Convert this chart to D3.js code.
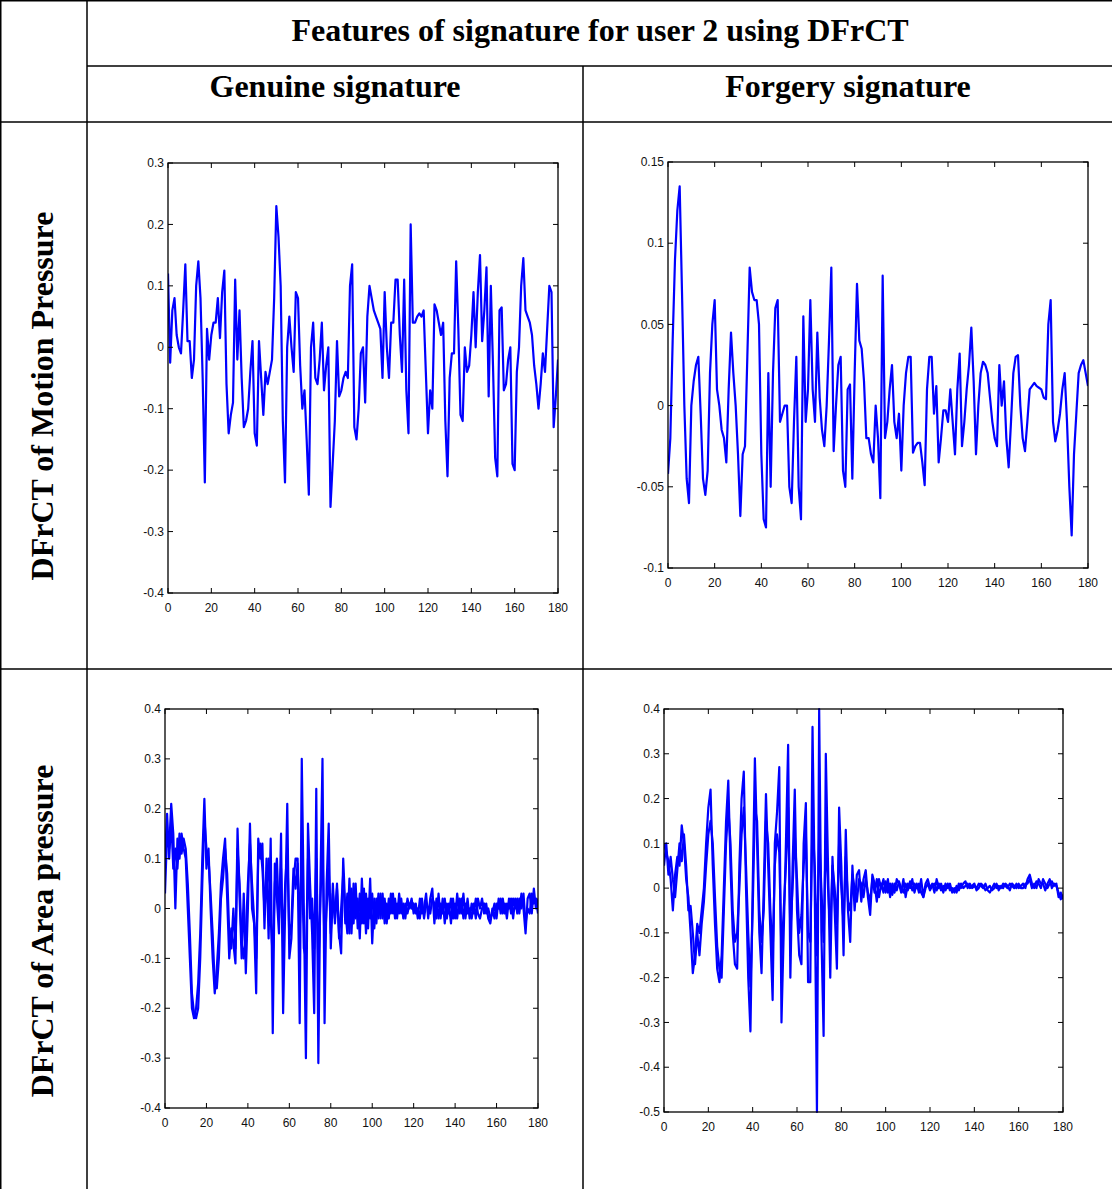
<!DOCTYPE html>
<html>
<head>
<meta charset="utf-8">
<script src="https://cdn.jsdelivr.net/npm/d3@7"></script>
<style>
  html, body { margin: 0; padding: 0; background: #fff; }
  svg { display: block; }
</style>
</head>
<body>
<div id="chart"></div>
<script>
// ---------- DATA ----------
const title = "Features of signature for user 2 using DFrCT";
const columnHeaders = ["Genuine signature", "Forgery signature"];
const rowHeaders = ["DFrCT of Motion Pressure", "DFrCT of Area pressure"];

const xTicks = [0, 20, 40, 60, 80, 100, 120, 140, 160, 180];
const yTicksMotionGenuine = [-0.4, -0.3, -0.2, -0.1, 0, 0.1, 0.2, 0.3];
const yTicksMotionForgery = [-0.1, -0.05, 0, 0.05, 0.1, 0.15];
const yTicksAreaGenuine = [-0.4, -0.3, -0.2, -0.1, 0, 0.1, 0.2, 0.3, 0.4];
const yTicksAreaForgery = [-0.5, -0.4, -0.3, -0.2, -0.1, 0, 0.1, 0.2, 0.3, 0.4];

// sample index 0..180
const motionGenuine = [
  0.12, -0.025, 0.06, 0.08, 0.02, 0.0, -0.01, 0.06, 0.135, 0.01,
  0.01, -0.05, -0.02, 0.1, 0.14, 0.08, -0.05, -0.22, 0.03, -0.02,
  0.02, 0.04, 0.04, 0.08, 0.015, 0.09, 0.125, -0.06, -0.14, -0.11,
  -0.09, 0.11, -0.02, 0.06, -0.05, -0.13, -0.12, -0.1, -0.04, 0.01,
  -0.14, -0.16, 0.01, -0.05, -0.11, -0.04, -0.06, -0.04, -0.02, 0.08,
  0.23, 0.18, 0.1, -0.12, -0.22, 0.0, 0.05, 0.0, -0.04, 0.09,
  0.08, -0.03, -0.1, -0.07, -0.15, -0.24, 0.0, 0.04, -0.05, -0.06,
  -0.02, 0.04, -0.07, -0.03, 0.0, -0.26, -0.19, -0.12, 0.01, -0.08,
  -0.07, -0.05, -0.04, -0.05, 0.1, 0.135, -0.13, -0.15, -0.1, -0.01,
  0.0, -0.09, 0.05, 0.1, 0.08, 0.06, 0.05, 0.04, 0.03, -0.05,
  0.09, 0.0, -0.05, 0.04, 0.04, 0.11, 0.11, 0.02, -0.04, 0.11,
  -0.07, -0.14, 0.2, 0.04, 0.04, 0.05, 0.055, 0.05, 0.06, -0.04,
  -0.14, -0.07, -0.1, 0.07, 0.06, 0.04, 0.02, 0.04, -0.12, -0.21,
  -0.05, -0.01, -0.01, 0.14, 0.03, -0.11, -0.12, 0.0, -0.04, -0.03,
  0.02, 0.09, 0.0, 0.09, 0.15, 0.01, 0.06, 0.13, -0.08, 0.1,
  -0.03, -0.18, -0.21, 0.06, 0.065, -0.07, -0.06, -0.02, 0.0, -0.19,
  -0.2, -0.04, 0.0, 0.1, 0.145, 0.06, 0.05, 0.04, 0.02, -0.03,
  -0.06, -0.1, -0.06, -0.01, -0.04, 0.03, 0.1, 0.09, -0.13, -0.08,
  -0.02
];

const motionForgery = [
  -0.042, -0.02, 0.04, 0.09, 0.12, 0.135, 0.07, 0.0, -0.045, -0.06,
  0.0, 0.015, 0.025, 0.03, -0.005, -0.045, -0.055, -0.04, 0.02, 0.05,
  0.065, 0.01, 0.0, -0.015, -0.02, -0.035, 0.01, 0.045, 0.02, 0.0,
  -0.03, -0.068, -0.03, -0.025, 0.03, 0.085, 0.07, 0.065, 0.065, 0.05,
  -0.03, -0.07, -0.075, 0.02, -0.05, 0.02, 0.06, 0.065, -0.01, -0.005,
  0.0, 0.0, -0.05, -0.06, -0.01, 0.03, -0.05, -0.07, 0.055, -0.01,
  0.01, 0.065, 0.01, -0.01, 0.045, 0.005, -0.015, -0.025, 0.0, 0.04,
  0.085, -0.028, 0.0, 0.025, 0.03, -0.04, -0.05, 0.01, 0.013, -0.045,
  0.02, 0.075, 0.04, 0.035, 0.015, -0.02, -0.02, -0.03, -0.035, 0.0,
  -0.02, -0.057, 0.08, -0.02, -0.01, 0.01, 0.025, -0.01, -0.02, -0.005,
  -0.04, 0.0, 0.02, 0.03, 0.03, -0.029, -0.025, -0.023, -0.023, -0.035,
  -0.049, 0.01, 0.03, 0.03, -0.005, 0.012, -0.035, -0.02, -0.003, -0.003,
  -0.01, 0.01, -0.01, -0.03, 0.01, 0.032, -0.025, -0.01, 0.01, 0.025,
  0.048, 0.015, -0.03, 0.0, 0.02, 0.027, 0.025, 0.02, 0.005, -0.01,
  -0.02, -0.025, 0.025, 0.0, 0.015, -0.02, -0.038, -0.01, 0.02, 0.03,
  0.031, 0.0, -0.02, -0.028, -0.01, 0.01, 0.012, 0.014, 0.012, 0.011,
  0.01, 0.005, 0.004, 0.05, 0.065, -0.01, -0.022, -0.015, -0.005, 0.01,
  0.02, -0.01, -0.05, -0.08, -0.03, -0.005, 0.02, 0.025, 0.028, 0.02,
  0.012
];

const areaGenuineA = [
  0.03, 0.15, 0.12, 0.21, 0.15, 0.0, 0.14, 0.1, 0.15, 0.12,
  0.1, 0.0, -0.1, -0.2, -0.22, -0.2, -0.15, -0.05, 0.1, 0.22,
  0.08, 0.12, 0.0, -0.1, -0.17, -0.12, -0.05, 0.05, 0.1, 0.14,
  0.02, -0.1, -0.04, -0.07, -0.11, 0.16, 0.02, -0.1, 0.03, -0.13,
  0.0, 0.17, 0.0, -0.03, -0.17, 0.14, 0.1, 0.13, -0.04, 0.1,
  -0.06, 0.14, -0.25, 0.09, 0.02, -0.05, 0.15, -0.21, 0.0, 0.21,
  -0.1, -0.06, 0.05, 0.1, 0.1, -0.23, 0.3, 0.0, -0.3, 0.17,
  0.05, -0.05, -0.21, 0.24, -0.31, 0.05, 0.3, -0.23, 0.05, 0.17,
  -0.08, 0.03, -0.02, 0.05, -0.05, -0.09, 0.1, 0.0, -0.05, 0.06,
  -0.05, 0.05, -0.02, 0.02, -0.06, 0.06, -0.03, 0.03, -0.04, 0.06,
  -0.07, 0.02, -0.03, 0.03, -0.02, 0.03, -0.03, 0.01, -0.02, 0.03,
  -0.01, 0.02, -0.02, 0.03, -0.01, 0.01, -0.02, 0.02, 0.0, 0.02,
  -0.01, 0.01, -0.02, 0.02, -0.01, 0.0, 0.03, -0.02, 0.02, 0.04,
  -0.03, 0.02, -0.02, 0.01, -0.01, 0.02, -0.02, 0.01, -0.03, 0.02,
  -0.02, 0.03, -0.01, 0.02, -0.02, 0.01, -0.01, 0.0, -0.02, 0.01,
  -0.02, 0.02, 0.0, 0.02, -0.01, 0.01, -0.02, -0.03, 0.0, -0.02,
  0.01, 0.0, 0.02, -0.01, 0.01, -0.02, 0.02, -0.01, 0.02, 0.0,
  0.02, -0.01, 0.03, 0.0, -0.05, 0.02, 0.03, -0.01, 0.04, 0.0,
  0.02
];

const areaGenuineB = [
  0.1, 0.19, 0.1, 0.18, 0.08, 0.12, 0.08, 0.15, 0.11, 0.14,
  0.12, 0.05, -0.05, -0.17, -0.21, -0.22, -0.2, -0.1, 0.05, 0.18,
  0.12, 0.1, 0.03, -0.05, -0.15, -0.16, -0.1, 0.02, 0.06, 0.12,
  0.07, -0.05, -0.08, 0.0, -0.08, 0.12, 0.05, -0.07, -0.1, -0.05,
  0.05, 0.13, 0.05, -0.02, -0.1, 0.1, 0.13, 0.08, 0.0, 0.04,
  0.1, -0.02, -0.1, 0.05, 0.1, -0.02, 0.08, -0.08, 0.05, 0.12,
  -0.06, -0.03, 0.08, 0.04, 0.09, -0.05, 0.12, -0.08, -0.1, 0.1,
  -0.02, 0.02, -0.08, 0.1, -0.12, 0.02, 0.12, -0.08, 0.0, 0.08,
  -0.05, 0.05, -0.03, 0.04, -0.06, 0.0, 0.07, -0.03, 0.03, -0.05,
  0.04, -0.03, 0.05, -0.04, 0.03, -0.03, 0.04, -0.05, 0.02, -0.02,
  0.03, -0.04, 0.02, -0.02, 0.03, -0.02, 0.02, -0.03, 0.02, -0.01,
  0.03, -0.02, 0.01, -0.01, 0.02, -0.02, 0.01, -0.01, 0.01, 0.0,
  0.01, -0.01, 0.0, -0.02, 0.02, -0.02, 0.01, 0.0, -0.01, 0.02,
  0.01, -0.02, 0.03, -0.02, 0.02, -0.03, 0.01, -0.01, 0.02, -0.02,
  0.01, -0.02, 0.02, -0.01, 0.03, -0.02, 0.02, -0.02, 0.01, -0.01,
  0.02, -0.01, -0.02, 0.0, 0.01, -0.01, 0.0, -0.02, -0.01, 0.01,
  -0.02, 0.02, -0.01, 0.02, -0.01, 0.01, 0.0, 0.02, -0.02, 0.02,
  -0.01, 0.02, 0.0, 0.03, -0.03, 0.0, -0.01, 0.03, 0.01, 0.02,
  -0.01
];

const areaForgeryA = [
  0.1, 0.08, 0.06, 0.02, -0.05, 0.03, 0.07, 0.05, 0.14, 0.1,
  0.02, -0.02, -0.1, -0.19, -0.15, -0.08, -0.1, -0.05, 0.0, 0.1,
  0.18, 0.22, 0.05, -0.08, -0.18, -0.21, -0.15, 0.0, 0.15, 0.24,
  0.05, -0.1, -0.17, -0.18, 0.05, 0.2, 0.26, 0.0, -0.2, -0.32,
  0.0, 0.29, 0.1, -0.1, -0.19, 0.0, 0.21, 0.05, -0.1, -0.25,
  0.1, 0.17, 0.27, -0.3, -0.1, 0.1, 0.32, -0.2, 0.05, 0.22,
  -0.05, -0.15, -0.17, 0.1, 0.19, -0.21, -0.21, 0.36, 0.0, -0.5,
  0.4, -0.1, -0.33, 0.3, 0.05, -0.2, 0.07, -0.05, -0.18, 0.18,
  0.05, -0.15, 0.13, -0.05, -0.12, 0.05, -0.05, 0.03, 0.04, -0.03,
  0.02, 0.04, -0.02, -0.06, 0.03, 0.01, -0.03, 0.02, 0.0, 0.02,
  -0.01, 0.02, -0.02, 0.01, -0.01, 0.02, 0.01, -0.01, 0.02, -0.02,
  0.01, 0.0, 0.02, -0.01, 0.01, -0.01, 0.02, -0.02, 0.01, 0.02,
  0.0, 0.01, -0.01, 0.02, 0.0, 0.01, -0.01, 0.01, 0.0, 0.01,
  -0.01, 0.0, -0.01, 0.01, 0.0, 0.01, 0.015, 0.0, 0.01, 0.0,
  0.005, 0.0, 0.01, 0.005, 0.0, 0.01, -0.005, -0.01, 0.0, 0.01,
  0.0, 0.005, 0.0, 0.01, 0.005, 0.0, 0.01, 0.005, 0.0, 0.01,
  0.0, 0.005, 0.01, 0.0, 0.02, 0.03, 0.01, 0.0, 0.015, 0.01,
  0.0, 0.02, 0.01, 0.0, 0.01, 0.015, 0.005, 0.01, -0.02, -0.01,
  -0.025
];

const areaForgeryB = [
  0.05, 0.1, 0.03, 0.07, 0.02, -0.02, 0.04, 0.1, 0.06, 0.12,
  0.05, -0.05, -0.04, -0.1, -0.17, -0.1, -0.15, -0.08, -0.03, 0.05,
  0.12, 0.15, 0.1, -0.02, -0.13, -0.18, -0.2, -0.05, 0.1, 0.18,
  0.1, -0.05, -0.12, -0.1, 0.0, 0.12, 0.18, 0.05, -0.1, -0.22,
  -0.05, 0.18, 0.15, -0.05, -0.12, -0.05, 0.15, 0.1, -0.05, -0.15,
  0.05, 0.12, 0.08, -0.15, -0.05, 0.05, 0.18, -0.1, 0.0, 0.12,
  0.02, -0.1, -0.06, 0.05, 0.12, -0.1, -0.12, 0.15, 0.05, -0.15,
  0.12, 0.0, -0.12, 0.12, 0.0, -0.1, 0.05, 0.0, -0.08, 0.1,
  0.0, -0.08, 0.07, -0.03, -0.05, 0.03, 0.0, -0.03, 0.02, 0.01,
  -0.02, 0.02, -0.01, -0.03, 0.02, -0.01, 0.02, -0.02, 0.01, -0.01,
  0.015, -0.01, 0.01, -0.015, 0.01, -0.005, 0.015, 0.0, -0.01, 0.01,
  -0.005, 0.015, -0.005, 0.01, 0.0, 0.01, -0.01, -0.02, 0.0, 0.01,
  -0.005, 0.005, 0.01, -0.005, 0.01, -0.005, 0.005, -0.005, 0.01, -0.005,
  0.0, -0.01, 0.005, -0.005, 0.01, 0.0, 0.005, 0.01, 0.0, 0.005,
  0.01, -0.005, 0.0, 0.01, 0.005, -0.005, 0.0, 0.005, -0.005, 0.0,
  0.01, -0.005, 0.005, 0.0, 0.01, 0.005, -0.005, 0.01, 0.005, 0.0,
  0.01, 0.0, 0.0, 0.01, 0.01, 0.02, 0.0, 0.01, 0.0, 0.02,
  0.01, 0.01, -0.005, 0.01, 0.02, 0.0, 0.01, 0.005, -0.01, -0.025,
  -0.015
];

// ---------- LAYOUT ----------
const W = 1112, H = 1189;
const svg = d3.select("#chart").append("svg")
  .attr("width", W).attr("height", H)
  .attr("viewBox", `0 0 ${W} ${H}`);

const serif = "'Liberation Serif', 'Times New Roman', serif";
const sans = "'Liberation Sans', Arial, sans-serif";

// table grid
const grid = svg.append("g").attr("stroke", "#000").attr("stroke-width", 1.5).attr("fill", "none");
const gridLines = [
  [87, 0, 87, H],
  [583, 66, 583, H],
  [87, 66, W, 66],
  [0, 122, W, 122],
  [0, 669, W, 669],
  [0, 0.75, W, 0.75],
  [0.75, 0, 0.75, H]
];
grid.selectAll("line").data(gridLines).join("line")
  .attr("x1", d => d[0]).attr("y1", d => d[1])
  .attr("x2", d => d[2]).attr("y2", d => d[3]);

// headers
svg.append("text").text(title)
  .attr("x", 600).attr("y", 41)
  .attr("text-anchor", "middle")
  .attr("font-family", serif).attr("font-weight", "bold").attr("font-size", 32);

[[335, columnHeaders[0]], [848, columnHeaders[1]]].forEach(([x, t]) => {
  svg.append("text").text(t)
    .attr("x", x).attr("y", 97)
    .attr("text-anchor", "middle")
    .attr("font-family", serif).attr("font-weight", "bold").attr("font-size", 32);
});

[[396, rowHeaders[0]], [931, rowHeaders[1]]].forEach(([y, t]) => {
  svg.append("text").text(t)
    .attr("transform", `translate(53,${y}) rotate(-90)`)
    .attr("text-anchor", "middle")
    .attr("font-family", serif).attr("font-weight", "bold").attr("font-size", 32);
});

// ---------- PLOTS ----------
function fmt(v) {
  let s = String(+v.toFixed(2));
  if (s === "-0") s = "0";
  return s;
}

let clipId = 0;
function plot(box, yDomain, yTicks, seriesList) {
  const x = d3.scaleLinear().domain([0, 180]).range([box.left, box.right]);
  const y = d3.scaleLinear().domain(yDomain).range([box.bottom, box.top]);
  const g = svg.append("g");
  const tl = 5;

  // data lines
  const id = "clip" + (clipId++);
  g.append("clipPath").attr("id", id).append("rect")
    .attr("x", box.left).attr("y", box.top - 2)
    .attr("width", box.right - box.left).attr("height", box.bottom - box.top + 4);
  const line = d3.line().x((d, i) => x(i)).y(d => y(d));
  g.append("g").attr("clip-path", `url(#${id})`)
    .selectAll("path").data(seriesList).join("path")
    .attr("d", line)
    .attr("fill", "none")
    .attr("stroke", "#0000ff")
    .attr("stroke-width", 2.2)
    .attr("stroke-linejoin", "round");

  // ticks (inside, all four sides)
  const tg = g.append("g").attr("stroke", "#000").attr("stroke-width", 1);
  xTicks.forEach(t => {
    tg.append("line").attr("x1", x(t)).attr("x2", x(t)).attr("y1", box.bottom).attr("y2", box.bottom - tl);
    tg.append("line").attr("x1", x(t)).attr("x2", x(t)).attr("y1", box.top).attr("y2", box.top + tl);
  });
  yTicks.forEach(t => {
    tg.append("line").attr("x1", box.left).attr("x2", box.left + tl).attr("y1", y(t)).attr("y2", y(t));
    tg.append("line").attr("x1", box.right).attr("x2", box.right - tl).attr("y1", y(t)).attr("y2", y(t));
  });

  // box
  g.append("rect")
    .attr("x", box.left).attr("y", box.top)
    .attr("width", box.right - box.left).attr("height", box.bottom - box.top)
    .attr("fill", "none").attr("stroke", "#000").attr("stroke-width", 1.3);

  // labels
  g.selectAll("text.xl").data(xTicks).join("text")
    .attr("class", "xl")
    .attr("x", d => x(d)).attr("y", box.bottom + 19)
    .attr("text-anchor", "middle")
    .attr("font-family", sans).attr("font-size", 12).attr("fill", "#111")
    .text(d => fmt(d));
  g.selectAll("text.yl").data(yTicks).join("text")
    .attr("class", "yl")
    .attr("x", box.left - 4).attr("y", d => y(d))
    .attr("dy", "0.35em")
    .attr("text-anchor", "end")
    .attr("font-family", sans).attr("font-size", 12).attr("fill", "#111")
    .text(d => fmt(d));
}

plot({ left: 168, right: 558, top: 163, bottom: 593 }, [-0.4, 0.3], yTicksMotionGenuine, [motionGenuine]);
plot({ left: 668, right: 1088, top: 162, bottom: 568 }, [-0.1, 0.15], yTicksMotionForgery, [motionForgery]);
plot({ left: 165, right: 538, top: 709, bottom: 1108 }, [-0.4, 0.4], yTicksAreaGenuine, [areaGenuineB, areaGenuineA]);
plot({ left: 664, right: 1063, top: 709, bottom: 1112 }, [-0.5, 0.4], yTicksAreaForgery, [areaForgeryB, areaForgeryA]);
</script>
</body>
</html>
